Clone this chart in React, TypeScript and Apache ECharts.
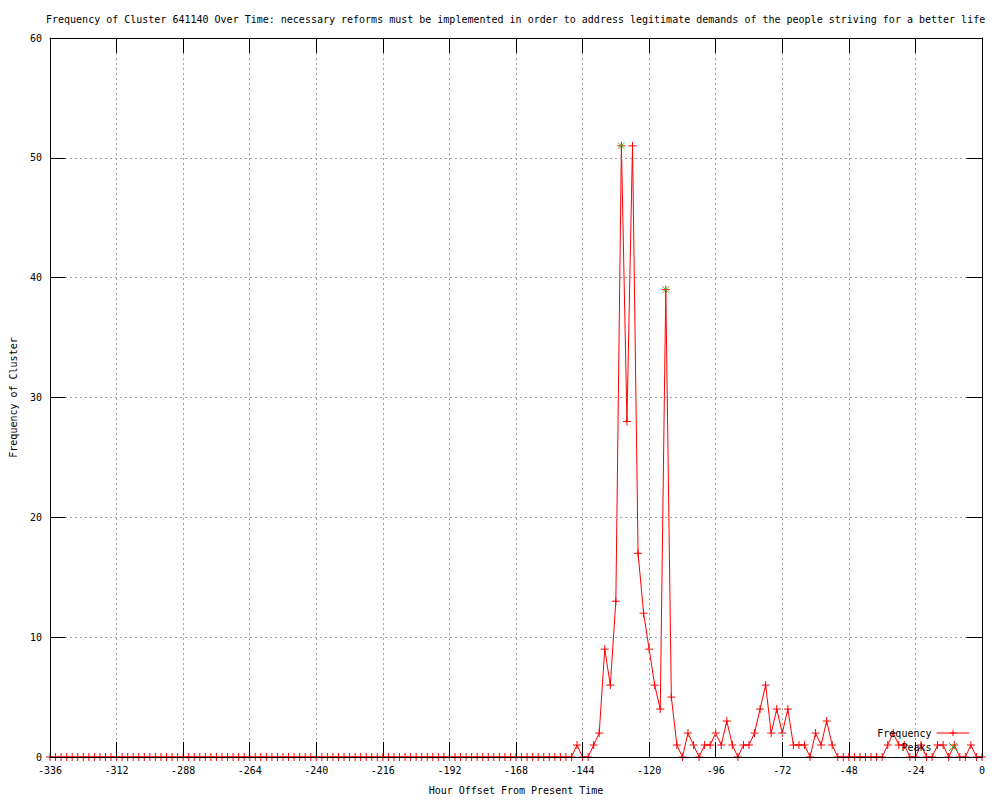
import React, { useEffect, useRef } from "react";
import * as echarts from "echarts";

const TITLE =
  "Frequency of Cluster 641140 Over Time: necessary reforms must be implemented in order to address legitimate demands of the people striving for a better life";
const X_TITLE = "Hour Offset From Present Time";
const Y_TITLE = "Frequency of Cluster";

const START_HOUR = -336;
const STEP_HOURS = 2;

// one value every 2 hours, from -336 to 0
const FREQUENCY = [
  0, 0, 0, 0, 0, 0, 0, 0, 0, 0, 0, 0, 0, 0, 0, 0, 0, 0, 0,
  0, 0, 0, 0, 0, 0, 0, 0, 0, 0, 0, 0, 0, 0, 0, 0, 0, 0, 0,
  0, 0, 0, 0, 0, 0, 0, 0, 0, 0, 0, 0, 0, 0, 0, 0, 0, 0, 0,
  0, 0, 0, 0, 0, 0, 0, 0, 0, 0, 0, 0, 0, 0, 0, 0, 0, 0, 0,
  0, 0, 0, 0, 0, 0, 0, 0, 0, 0, 0, 0, 0, 0, 0, 0, 0, 0, 0,
  1, 0, 0, 1, 2, 9, 6, 13, 51, 28, 51, 17, 12, 9, 6, 4, 39, 5, 1, 0,
  2, 1, 0, 1, 1, 2, 1, 3, 1, 0, 1, 1, 2, 4, 6, 2, 4, 2, 4, 1,
  1, 1, 0, 2, 1, 3, 1, 0, 0, 0, 0, 0, 0, 0, 0, 0, 1, 2, 1, 1,
  0, 0, 1, 0, 0, 1, 1, 0, 1, 0, 0, 1, 0, 0,
];

const PEAK_HOURS = [-130, -114];
const PEAK_VALUES = [51, 39];

const X_MIN = -336;
const X_MAX = 0;
const X_STEP = 24;
const Y_MIN = 0;
const Y_MAX = 60;
const Y_STEP = 10;

const FONT = "'DejaVu Sans Mono', 'Liberation Mono', monospace";
const PLUS = "path://M0,4L8,4M4,0L4,8";
const CROSS = "path://M0,0L8,8M8,0L0,8";

export default function App() {
  const ref = useRef<HTMLDivElement>(null);

  useEffect(() => {
    if (!ref.current) return;
    const chart = echarts.init(ref.current, undefined, { renderer: "svg" });

    const freqData = FREQUENCY.map((v, i) => [START_HOUR + i * STEP_HOURS, v]);
    const peakData = PEAK_HOURS.map((h, i) => [h, PEAK_VALUES[i]]);

    const tickStyle = { show: true, inside: true, length: 15, lineStyle: { color: "#000", width: 1 } };
    const axisLine = { show: true, onZero: false, lineStyle: { color: "#000", width: 1 } };
    const splitLine = { show: true, lineStyle: { color: "#a0a0a0", width: 1, type: [2, 3] as any } };
    const labelStyle = { color: "#000", fontFamily: FONT, fontSize: 10 };

    chart.setOption({
      animation: false,
      backgroundColor: "#fff",
      title: {
        text: TITLE,
        left: 46,
        top: 14,
        padding: 0,
        textStyle: { fontFamily: FONT, fontSize: 10, fontWeight: "normal", color: "#000" },
      },
      legend: {
        data: [{ name: "Frequency" }, { name: "Peaks" }],
        orient: "vertical",
        right: 30,
        top: 728,
        align: "right",
        padding: 0,
        itemGap: 4,
        itemWidth: 33,
        itemHeight: 8,
        selectedMode: false,
        lineStyle: { width: 1 },
        itemStyle: { borderWidth: 1 },
        textStyle: { fontFamily: FONT, fontSize: 10, color: "#000" },
      },
      grid: { left: 49, right: 18, top: 38, bottom: 40, containLabel: false },
      xAxis: [
        {
          type: "value",
          position: "bottom",
          min: X_MIN,
          max: X_MAX,
          interval: X_STEP,
          z: 5,
          name: X_TITLE,
          nameLocation: "middle",
          nameGap: 28,
          nameTextStyle: labelStyle,
          axisLine,
          axisTick: tickStyle,
          axisLabel: { ...labelStyle, margin: 8 },
          splitLine,
        },
        {
          type: "value",
          position: "top",
          min: X_MIN,
          max: X_MAX,
          interval: X_STEP,
          z: 5,
          axisLine,
          axisTick: tickStyle,
          axisLabel: { show: false },
          splitLine: { show: false },
        },
      ],
      yAxis: [
        {
          type: "value",
          position: "left",
          min: Y_MIN,
          max: Y_MAX,
          interval: Y_STEP,
          z: 5,
          name: Y_TITLE,
          nameLocation: "middle",
          nameGap: 32,
          nameRotate: 90,
          nameTextStyle: labelStyle,
          axisLine,
          axisTick: tickStyle,
          axisLabel: { ...labelStyle, margin: 8 },
          splitLine,
        },
        {
          type: "value",
          position: "right",
          min: Y_MIN,
          max: Y_MAX,
          interval: Y_STEP,
          z: 5,
          axisLine,
          axisTick: tickStyle,
          axisLabel: { show: false },
          splitLine: { show: false },
        },
      ],
      series: [
        {
          name: "Frequency",
          type: "line",
          xAxisIndex: 0,
          yAxisIndex: 0,
          data: freqData,
          symbol: PLUS,
          symbolSize: 8,
          showAllSymbol: true,
          lineStyle: { color: "#ff0000", width: 1 },
          itemStyle: { color: "#ff0000", borderColor: "#ff0000", borderWidth: 1 },
          emphasis: { disabled: true },
          silent: true,
        },
        {
          name: "Peaks",
          type: "scatter",
          xAxisIndex: 0,
          yAxisIndex: 0,
          data: peakData,
          symbol: CROSS,
          symbolSize: 7,
          itemStyle: { color: "#00c000", borderColor: "#00c000", borderWidth: 1 },
          emphasis: { disabled: true },
          silent: true,
          z: 3,
        },
      ],
    });

    return () => chart.dispose();
  }, []);

  return (
    <div
      ref={ref}
      style={{ position: "fixed", left: 0, top: 0, width: 1000, height: 800, background: "#fff" }}
    />
  );
}
